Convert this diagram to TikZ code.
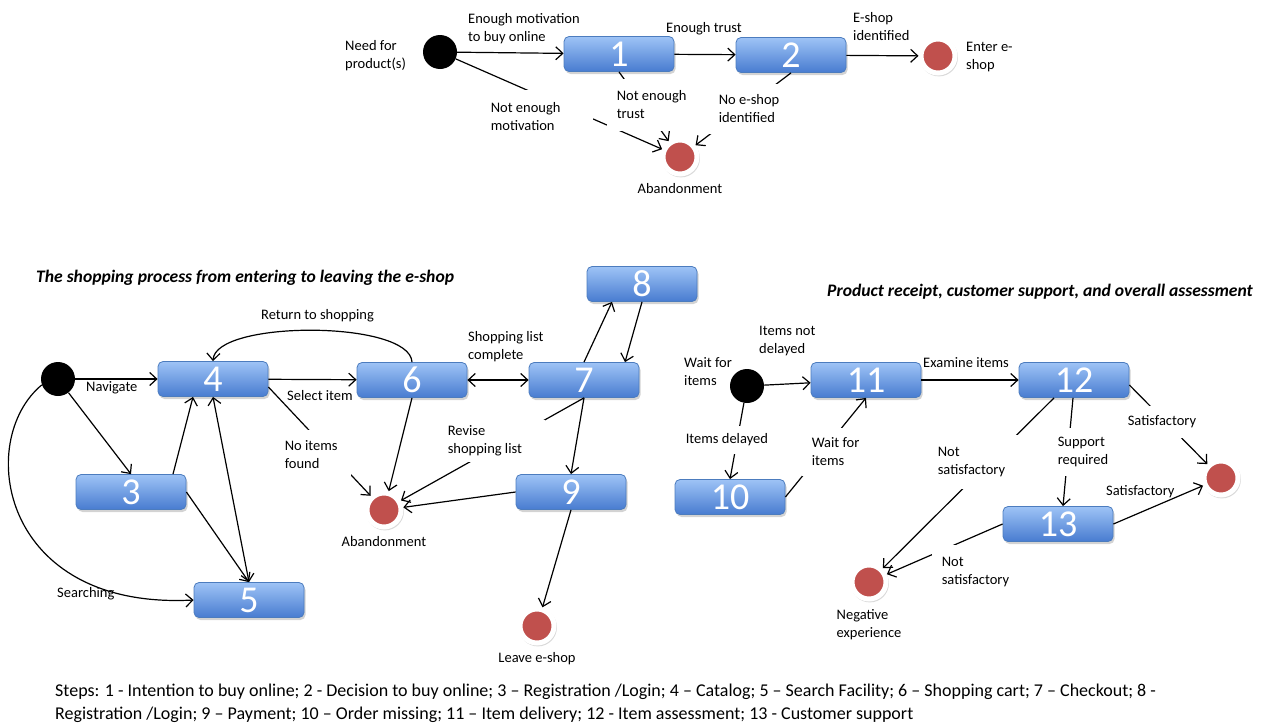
\documentclass[tikz,border=0pt]{standalone}
\usepackage{fontspec}
\setmainfont{Carlito}
\usetikzlibrary{arrows.meta,positioning,shadows}

\definecolor{boxtop}{RGB}{158,195,246}
\definecolor{boxbot}{RGB}{72,124,208}
\definecolor{boxline}{RGB}{76,124,190}
\definecolor{stopred}{RGB}{192,80,77}

\newcommand{\tagfont}{\fontsize{14.5}{18}\selectfont}
\newcommand{\headfont}{\fontsize{17.6}{21}\selectfont}
\newcommand{\digitfont}{\fontsize{38}{38}\selectfont}
\newcommand{\stepsfont}{\fontsize{18}{23}\selectfont}

\tikzset{
  stepbox/.style={rectangle, rounded corners=5pt, draw=boxline, line width=0.8pt,
                  top color=boxtop, bottom color=boxbot, text=white, font=\digitfont,
                  minimum width=110pt, minimum height=35pt, inner sep=0pt,
                  drop shadow={shadow xshift=1.5pt, shadow yshift=-2.5pt, opacity=0.35}},
  start/.style={circle, fill=black, minimum size=34pt, inner sep=0pt},
  stop/.style={circle, fill=stopred, draw=white, line width=5pt, minimum size=34pt, inner sep=0pt,
               drop shadow={shadow scale=1.12, shadow xshift=0.8pt, shadow yshift=-1.2pt, opacity=0.3}},
  tag/.style={align=left, inner sep=1pt, font=\tagfont},
  gaptag/.style={tag, align=flush left, fill=white, inner xsep=9.6pt, inner ysep=0pt, anchor=west},
  title/.style={inner sep=1pt, font=\headfont\bfseries\itshape}
}

\begin{document}
\begin{tikzpicture}[x=1pt, y=-1pt, >={Straight Barb[length=7pt,width=13pt]}, flow/.style={line width=1.2pt}]
    \useasboundingbox (0,0) rectangle (1263,723);

    % entering the e-shop
    \node[start]   (s1)  at (440,52)  {};
    \node[stepbox] (b1)  at (619,54)  {1};
    \node[stepbox] (b2)  at (791,55)  {2};
    \node[stop]    (en1) at (938,56)  {};
    \node[stop]    (ab1) at (680,157) {};

    \path[->, flow] (s1)        edge (b1)
                                edge (ab1)
                    (b1)        edge (b2)
                    (b1.south)  edge (ab1)
                    (b2)        edge (en1)
                    (b2.south)  edge (ab1);

    \node[tag, anchor=west]  (need)    at (344,56)  {Need for\\product(s)};
    \node[tag, anchor=west]  (motiv)   at (467,29)  {Enough motivation\\to buy online};
    \node[tag, anchor=west]  (trust)   at (665,29)  {Enough trust};
    \node[tag, anchor=west]  (found)   at (852,27)  {E-shop\\identified};
    \node[tag, anchor=west]  (enter)   at (965,57)  {Enter e-\\shop};
    \node[tag, below=6pt of ab1] (abtxt1) {Abandonment};
    \node[gaptag, text width=92.8pt, minimum height=54pt] (nomotiv) at (481,117) {Not enough\\motivation};
    \node[gaptag, text width=73.8pt, minimum height=52pt] (notrust) at (607,105) {Not enough\\trust};
    \node[gaptag, text width=66pt,   minimum height=50pt] (noshop)  at (709,109) {No e-shop\\identified};

    % shopping
    \node[title, anchor=west] (title1) at (35,278) {The shopping process from entering to leaving the e-shop};
    \node[start]   (s2)  at (58,379)  {};
    \node[stepbox] (b3)  at (131,492) {3};
    \node[stepbox] (b4)  at (213,379) {4};
    \node[stepbox] (b5)  at (249,600) {5};
    \node[stepbox] (b6)  at (412,380) {6};
    \node[stepbox] (b7)  at (584,380) {7};
    \node[stepbox] (b8)  at (642,284) {8};
    \node[stepbox] (b9)  at (571,492) {9};
    \node[stop]    (ab2) at (384,510) {};
    \node[stop]    (lv)  at (537,626) {};

    \path[->, flow] (s2)                  edge (b4)
                                          edge (b3.north)
                    ([xshift=42pt]b3.north) edge ([xshift=-20pt]b4.south)
                    (b3.east)             edge (b5.north)
                    (b4)                  edge (b6)
                    ([yshift=-8pt]b4.east) edge (ab2)
                    (b6.south)            edge (ab2)
                    (b7.north)            edge ([xshift=-30pt]b8.south)
                    (b8.south)            edge ([xshift=41pt]b7.north)
                    (b7.south)            edge (ab2)
                                          edge (b9.north)
                    (b9.west)             edge (ab2)
                    (b9.south)            edge (lv);
    \path[<->, flow] (b4.south) edge (b5.north)
                     (b6)       edge (b7);
    \draw[->, flow] (b6.north) .. controls (410,320) and (215,320) .. (b4.north);
    \draw[->, flow] (s2.200) .. controls (-25,440) and (0,610) .. (b5.west);

    \node[tag, anchor=west]  (navig)   at (85,388)  {Navigate};
    \node[tag, anchor=west]  (back)    at (260,316) {Return to shopping};
    \node[tag, anchor=west]  (select)  at (286,396) {Select item};
    \node[tag, anchor=west]  (listok)  at (467,347) {Shopping list\\complete};
    \node[tag, anchor=west]  (search)  at (56,594)  {Searching};
    \node[tag, below=6pt of ab2] (abtxt2) {Abandonment};
    \node[tag, below=6pt of lv]  (lvtxt)  {Leave e-shop};
    \node[gaptag, text width=57pt,   minimum height=50pt] (noitems) at (275,455) {No items\\found};
    \node[gaptag, text width=87.8pt, minimum height=42pt] (revise)  at (438,441) {Revise\\shopping list};

    % after the purchase
    \node[title, anchor=east] (title2) at (1254,292) {Product receipt, customer support, and overall assessment};
    \node[start]   (s3)  at (747,386)  {};
    \node[stepbox] (b10) at (730,497)  {10};
    \node[stepbox] (b11) at (866,380)  {11};
    \node[stepbox] (b12) at (1074,380) {12};
    \node[stepbox] (b13) at (1058,524) {13};
    \node[stop]    (en3) at (1221,478) {};
    \node[stop]    (neg) at (869,582)  {};

    \path[->, flow] (s3)                   edge (b11)
                                           edge (b10.north)
                    (b10.east)             edge (b11.south)
                    (b11)                  edge (b12)
                    ([yshift=-5pt]b12.east) edge (en3)
                    ([xshift=-20pt]b12.south) edge (neg)
                    ([xshift=-1pt]b12.south) edge ([xshift=5pt]b13.north)
                    (b13.east)             edge (en3)
                    (b13.west)             edge (neg);

    \node[tag, anchor=west]  (wait1)   at (683,372)  {Wait for\\items};
    \node[tag, anchor=west]  (ontime)  at (758,341)  {Items not\\delayed};
    \node[tag, anchor=west]  (examine) at (922,363)  {Examine items};
    \node[tag, anchor=west]  (sat2)    at (1105,492) {Satisfactory};
    \node[tag, below=7pt of neg] (negtxt) {Negative\\experience};
    \node[gaptag, text width=84.8pt, minimum height=28pt] (late)    at (676,440)  {Items delayed};
    \node[gaptag, text width=55pt,   minimum height=48pt] (wait2)   at (802,452)  {Wait for\\items};
    \node[gaptag, text width=75.8pt, minimum height=54pt] (notsat1) at (928,462)  {Not\\satisfactory};
    \node[gaptag, text width=50.8pt, minimum height=48pt] (support) at (1048,452) {Support\\required};
    \node[gaptag, text width=70.8pt, minimum height=32pt] (sat1)    at (1118,422) {Satisfactory};
    \node[gaptag, text width=68.8pt, minimum height=54pt] (notsat2) at (932,572)  {Not\\satisfactory};

    \node[anchor=west, align=left, inner sep=1pt, font=\stepsfont] (steps) at (54,703)
      {Steps: 1 - Intention to buy online; 2 - Decision to buy online; 3 – Registration /Login; 4 – Catalog; 5 – Search Facility; 6 – Shopping cart; 7 – Checkout; 8 -\\
       Registration /Login; 9 – Payment; 10 – Order missing; 11 – Item delivery; 12 - Item assessment; 13 - Customer support};
\end{tikzpicture}
\end{document}
